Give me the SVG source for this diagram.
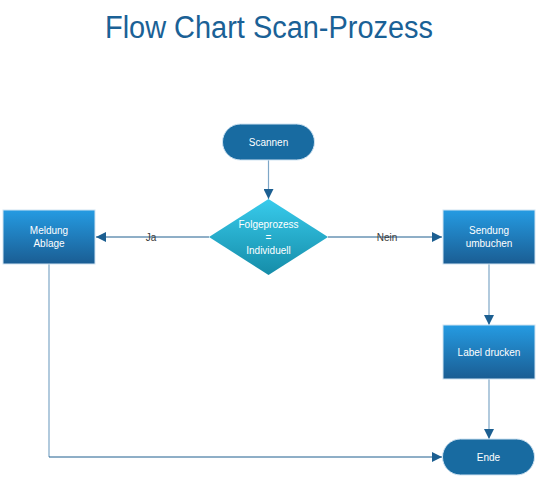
<svg xmlns="http://www.w3.org/2000/svg" width="537" height="478" viewBox="0 0 537 478">
<style>
.title{font-family:"Liberation Sans",Arial,sans-serif;font-size:31px;fill:#1a6196}
.nt{font-family:"Liberation Sans",Arial,sans-serif;font-size:10px;fill:#ffffff;text-anchor:middle}
.lbl{font-family:"Liberation Sans",Arial,sans-serif;font-size:10px;fill:#3a3a3a;text-anchor:middle}
.proc{fill:url(#gProc);stroke:#cfe3f2;stroke-width:1}
.term{fill:#186ba1;stroke:#cfe3f2;stroke-width:1}
.dec{fill:url(#gDec)}
.cv{fill:none;stroke:#7ea7c7;stroke-width:1.2}
.ch{fill:none;stroke:#1f5f8f;stroke-width:1}
</style>
<defs>
<linearGradient id="gProc" x1="0" y1="0" x2="0" y2="1">
<stop offset="0" stop-color="#259be2"/>
<stop offset="1" stop-color="#1a5d93"/>
</linearGradient>
<linearGradient id="gDec" x1="0" y1="0" x2="0" y2="1">
<stop offset="0" stop-color="#38cbec"/>
<stop offset="1" stop-color="#158ca8"/>
</linearGradient>
<marker id="arr" markerUnits="userSpaceOnUse" markerWidth="10" markerHeight="10" viewBox="0 0 10 10" refX="10" refY="5" orient="auto">
<path d="M0,0 L10,5 L0,10 z" fill="#1c5f91"/>
</marker>
</defs>
<text class="title" x="105" y="38" textLength="328" lengthAdjust="spacingAndGlyphs">Flow Chart Scan-Prozess</text>
<g id="connectors">
<path class="cv" d="M268.5,160 V199" marker-end="url(#arr)"/>
<path class="ch" d="M209,237 H96" marker-end="url(#arr)"/>
<path class="ch" d="M328,237 H442" marker-end="url(#arr)"/>
<path class="cv" d="M489,264 V325" marker-end="url(#arr)"/>
<path class="cv" d="M489,379 V439" marker-end="url(#arr)"/>
<path class="cv" d="M49,264 V457"/>
<path class="ch" d="M49,457 H442" marker-end="url(#arr)"/>
<text class="lbl" x="151" y="240.5">Ja</text>
<text class="lbl" x="387" y="240.5">Nein</text>
</g>
<g id="scannen">
<rect class="term" x="222.5" y="124" width="92" height="36" rx="18"/>
<text class="nt" x="268.5" y="145.5">Scannen</text>
</g>
<g id="entscheidung">
<polygon class="dec" points="268.5,199 328,237 268.5,275 209,237"/>
<text class="nt" x="268.5" y="228">Folgeprozess</text>
<text class="nt" x="268.5" y="241">=</text>
<text class="nt" x="268.5" y="254">Individuell</text>
</g>
<g id="meldung">
<rect class="proc" x="3" y="210" width="92" height="54"/>
<text class="nt" x="49" y="234">Meldung</text>
<text class="nt" x="49" y="247">Ablage</text>
</g>
<g id="sendung">
<rect class="proc" x="443" y="210" width="92" height="54"/>
<text class="nt" x="489" y="234">Sendung</text>
<text class="nt" x="489" y="247">umbuchen</text>
</g>
<g id="label">
<rect class="proc" x="443" y="325" width="92" height="54"/>
<text class="nt" x="489" y="355.5">Label drucken</text>
</g>
<g id="ende">
<rect class="term" x="442.5" y="439" width="92" height="36" rx="18"/>
<text class="nt" x="488.5" y="460.5">Ende</text>
</g>
</svg>
